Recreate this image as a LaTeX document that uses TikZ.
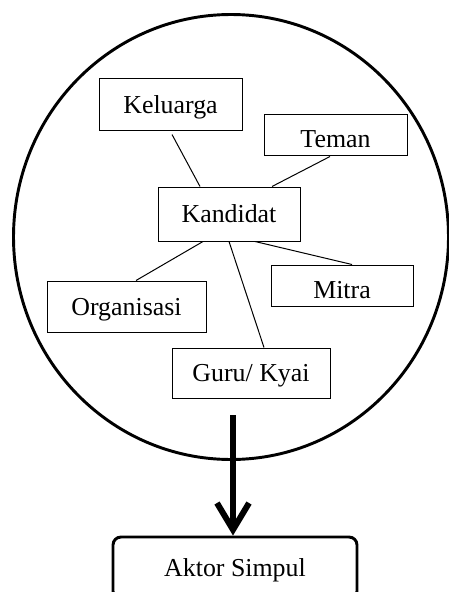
\documentclass[tikz,border=0pt]{standalone}
\usepackage{fontspec}
\setmainfont{Liberation Serif}
\usetikzlibrary{calc,arrows.meta}

\begin{document}
\begin{tikzpicture}[x=0.75pt,y=0.75pt,yscale=-1,xscale=1,
    box/.style={draw,line width=0.75pt,inner sep=3pt,font=\fontsize{19.4}{23}\selectfont,text height=13pt,text depth=0pt},
    lowtext/.style={text height=18.8pt},
    link/.style={line width=0.75pt}]
            \clip (0,0) rectangle (449,592);
            \draw [line width=2.2pt] (231,237) ellipse [x radius=217.5, y radius=222.5];
            \node [box,minimum width=107.25pt,minimum height=38.25pt] (kel) at (170.5,104.5) {Keluarga};
            \node [box,lowtext,minimum width=107.25pt,minimum height=30.75pt] (tem) at (335.5,134.5) {Teman};
            \node [box,minimum width=106.5pt,minimum height=40.5pt] (kand) at (229,214) {Kandidat};
            \node [box,lowtext,minimum width=106.5pt,minimum height=30.75pt] (mit) at (342,285.5) {Mitra};
            \node [box,minimum width=119.25pt,minimum height=38.25pt] (org) at (126.5,306.5) {Organisasi};
            \node [box,minimum width=118.5pt,minimum height=37.5pt] (guru) at (251,373) {Guru/ Kyai};
            \node [box,line width=2.2pt,rounded corners=6pt,minimum width=183pt,minimum height=46.5pt] (akt) at (235,568) {Aktor Simpul};
            \coordinate (start) at (233,415);
            \draw [link] ($(kel.south)+(1.5,4)$) -- ($(kand.north)+(-29,0)$);
            \draw [link] ($(tem.south)+(-5.5,1)$) -- ($(kand.north)+(43,0)$);
            \draw [link] ($(kand.south)+(-26,0)$) -- ($(org.north)+(9.5,0)$);
            \draw [link] ($(kand.south)+(26,0)$) -- ($(mit.north)+(10,0)$);
            \draw [link] (kand.south) -- ($(guru.north)+(13,0)$);
            \draw [line width=4.5pt,-{Straight Barb[length=20pt,width=24pt]}] (start) -- (start |- akt.north);
        \end{tikzpicture}
\end{document}
